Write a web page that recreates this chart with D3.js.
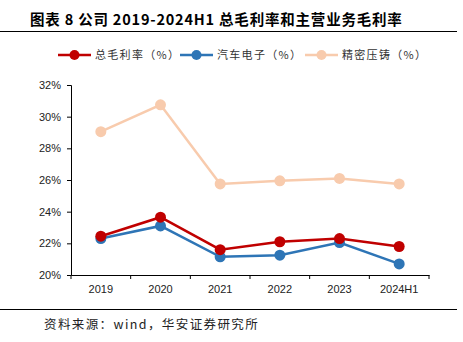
<!DOCTYPE html>
<html>
<head>
	<meta charset="utf-8">
	<script src="https://cdnjs.cloudflare.com/ajax/libs/d3/7.8.5/d3.min.js"></script>
	<style>
		body { margin: 0; background: #fff; }
		.axis text { font-family: "Liberation Sans", Arial, sans-serif; font-size: 11px; fill: #222; }
		.axis path, .axis line { stroke: #000; }
		.cn { font-family: "Noto Sans CJK SC", sans-serif; }
	</style>
</head>
<body>
	<svg width="463" height="342"></svg>
	<script>
	// data
	var years = ["2019", "2020", "2021", "2022", "2023", "2024H1"];
	var seriesNames = ["总毛利率（%）", "汽车电子（%）", "精密压铸（%）"];
	var grossMargin = [22.45, 23.65, 21.6, 22.1, 22.3, 21.8];
	var autoElectronics = [22.3, 23.1, 21.15, 21.25, 22.05, 20.7];
	var diecasting = [29.05, 30.75, 25.75, 25.95, 26.1, 25.75];
	var yTicks = [20, 22, 24, 26, 28, 30, 32];
	var colors = ["#C00000", "#2E75B6", "#F8CBAD"];

	var series = [grossMargin, autoElectronics, diecasting];

	var svg = d3.select("svg"),
		margin = {top: 85, right: 34, bottom: 67, left: 71},
		width = 463 - margin.left - margin.right,
		height = 342 - margin.top - margin.bottom,
		g = svg.append("g").attr("transform", "translate(" + margin.left + "," + margin.top + ")");

	// title + rules
	svg.append("text")
		.attr("class", "cn")
		.attr("x", 30).attr("y", 25)
		.style("font-size", "14.5px").style("font-weight", "bold")
		.style("letter-spacing", "0.8px")
		.text("图表 8 公司 2019-2024H1 总毛利率和主营业务毛利率");
	svg.append("line").attr("x1", 0).attr("x2", 457).attr("y1", 31.5).attr("y2", 31.5)
		.attr("stroke", "#000").attr("stroke-width", 1);
	svg.append("line").attr("x1", 0).attr("x2", 457).attr("y1", 309.5).attr("y2", 309.5)
		.attr("stroke", "#000").attr("stroke-width", 1);
	svg.append("text")
		.attr("class", "cn")
		.attr("x", 44).attr("y", 329)
		.style("font-size", "12.5px").style("fill", "#222")
		.style("letter-spacing", "1.4px")
		.text("资料来源：wind，华安证券研究所");

	//scales
	var x = d3.scaleBand().domain(years).range([0, width]);
	var y = d3.scaleLinear().domain([20, 32]).range([height, 0]);

	// axes
	g.append("g")
		.attr("class", "axis")
		.call(d3.axisLeft(y).tickValues(yTicks).tickSize(4).tickPadding(6).tickFormat(function(d) { return d + "%"; }));

	var xAxis = g.append("g")
		.attr("class", "axis")
		.attr("transform", "translate(0," + height + ")")
		.call(d3.axisBottom(x).tickSize(0).tickPadding(10));
	xAxis.selectAll(".bound")
		.data(d3.range(years.length + 1))
		.enter().append("line")
		.attr("x1", function(i) { return i * x.bandwidth(); })
		.attr("x2", function(i) { return i * x.bandwidth(); })
		.attr("y1", 0).attr("y2", 4)
		.attr("stroke", "#000");

	var line = d3.line()
		.x(function(d, i) { return x(years[i]) + x.bandwidth() / 2; })
		.y(function(d) { return y(d); });

	// draw the lighter series first
	[2, 1, 0].forEach(function(s) {
		g.append("path")
			.datum(series[s])
			.attr("d", line)
			.attr("fill", "none")
			.attr("stroke", colors[s])
			.attr("stroke-width", 2.5);
		g.selectAll(".dot" + s)
			.data(series[s])
			.enter().append("circle")
			.attr("cx", function(d, i) { return x(years[i]) + x.bandwidth() / 2; })
			.attr("cy", function(d) { return y(d); })
			.attr("r", 5.5)
			.attr("fill", colors[s]);
	});

	// legend
	var legX = [58, 180, 305];
	var leg = svg.selectAll(".leg")
		.data(seriesNames)
		.enter().append("g")
		.attr("transform", function(d, i) { return "translate(" + legX[i] + ",55)"; });
	leg.append("line").attr("x1", 0).attr("x2", 33).attr("y1", 0).attr("y2", 0)
		.attr("stroke", function(d, i) { return colors[i]; }).attr("stroke-width", 2.5);
	leg.append("circle").attr("cx", 16.5).attr("cy", 0).attr("r", 5)
		.attr("fill", function(d, i) { return colors[i]; });
	leg.append("text")
		.attr("class", "cn")
		.attr("x", 37).attr("y", 4)
		.style("font-size", "11px").style("fill", "#333")
		.style("letter-spacing", "1.3px")
		.text(function(d) { return d; });
	</script>
</body>
</html>
